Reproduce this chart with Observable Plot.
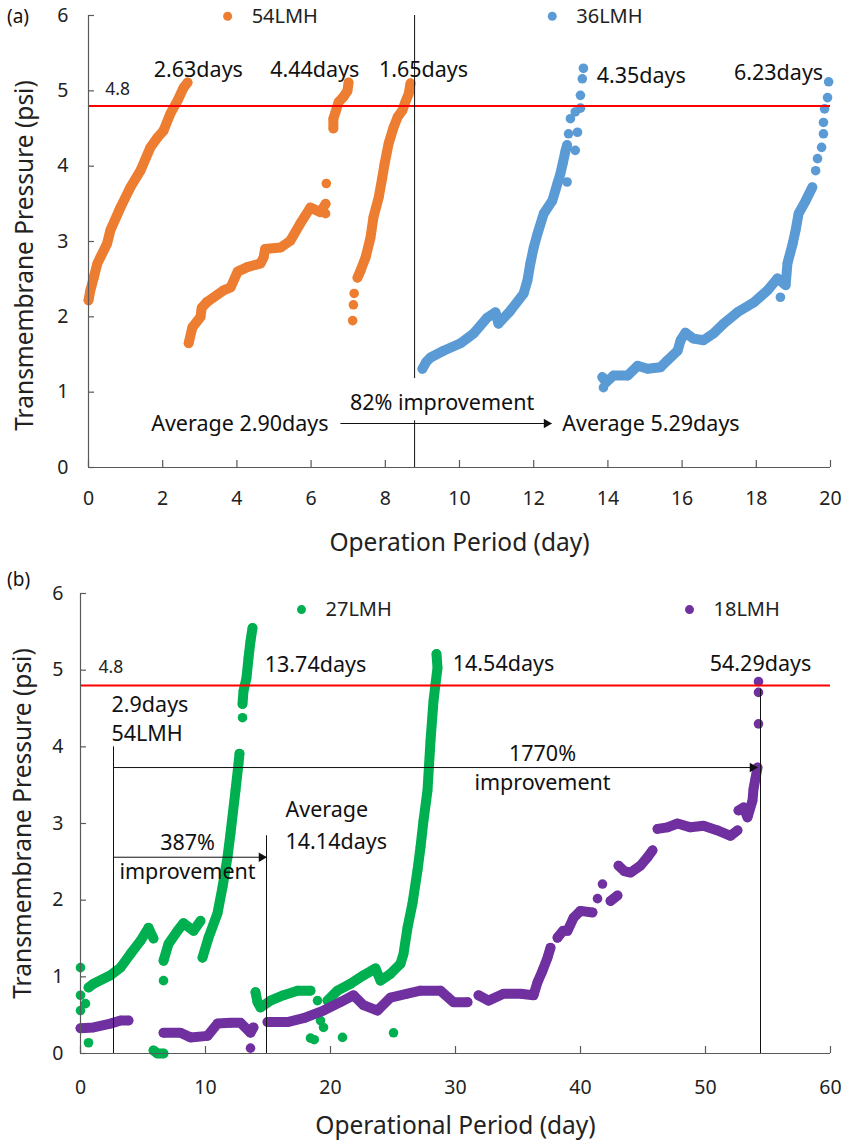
<!DOCTYPE html>
<html><head><meta charset="utf-8">
<script src="https://cdn.jsdelivr.net/npm/d3@7"></script>
<script src="https://cdn.jsdelivr.net/npm/@observablehq/plot@0.6"></script>
<style>
body{margin:0;background:#fff;}
#wrap{position:relative;width:846px;height:1142px;font-family:"Noto Sans","Open Sans",sans-serif;}
.panel{position:absolute;left:0;}
.tag{position:absolute;font-size:19px;color:#111;line-height:24px;z-index:2;}
</style></head><body>
<div id="wrap">
  <div class="tag" style="left:7px;top:4px">(a)</div>
  <div class="tag" style="left:7px;top:567px">(b)</div>
</div>
<script>
// ---------- Panel (a) data: [day, psi] ----------
const aXTicks = [0,2,4,6,8,10,12,14,16,18,20];
const yTicks = [0,1,2,3,4,5,6];
const limitTMP = 4.8;

const run54a = [[0,2.22],[0.05,2.35],[0.14,2.52],[0.24,2.71],[0.32,2.79],[0.5,2.97],[0.59,3.15],[0.86,3.45],[1.13,3.72],[1.4,3.94],[1.67,4.25],[1.86,4.38],[2.02,4.47],[2.21,4.7],[2.4,4.87],[2.56,5.04],[2.67,5.11]];
const run54b = [[2.7,1.65],[2.8,1.86],[3.02,2.0],[3.05,2.12],[3.2,2.2],[3.64,2.35],[3.83,2.39],[4.02,2.6],[4.28,2.66],[4.64,2.71],[4.72,2.79],[4.76,2.9],[5.18,2.92],[5.44,3.01],[5.71,3.24],[5.98,3.45],[6.25,3.39],[6.39,3.5]];
const run54c = [[6.6,4.5],[6.6,4.63],[6.66,4.72],[6.74,4.85],[6.87,4.92],[6.98,5.0],[7.01,5.11]];
const run54d = [[7.25,2.52],[7.33,2.61],[7.47,2.79],[7.6,3.05],[7.68,3.32],[7.82,3.58],[7.92,3.85],[7.98,4.03],[8.09,4.3],[8.22,4.51],[8.33,4.65],[8.46,4.74],[8.54,4.85],[8.63,4.96],[8.68,5.1]];
const loose54 = [[6.39,3.37],[6.41,3.77],[7.12,1.95],[7.14,2.16],[7.16,2.31]];

const run36a = [[9.0,1.31],[9.1,1.4],[9.22,1.46],[9.57,1.55],[10.03,1.65],[10.38,1.78],[10.75,1.99],[10.97,2.06],[11.05,1.91],[11.37,2.08],[11.73,2.31],[11.83,2.48],[11.91,2.71],[12.0,2.92],[12.1,3.1],[12.27,3.37],[12.5,3.54],[12.64,3.77],[12.72,3.9],[12.78,4.03],[12.86,4.21],[12.9,4.28]];
const run36b = [[13.85,1.2],[13.95,1.13],[14.15,1.22],[14.53,1.22],[14.8,1.35],[15.07,1.31],[15.42,1.33],[15.6,1.42],[15.88,1.55],[15.96,1.69],[16.09,1.79],[16.31,1.71],[16.58,1.69],[16.85,1.78],[17.12,1.91],[17.49,2.06],[17.93,2.19],[18.3,2.35],[18.57,2.51],[18.79,2.42],[18.84,2.71],[18.98,2.97],[19.06,3.15],[19.14,3.37],[19.33,3.54],[19.51,3.72]];
const loose36 = [[12.9,3.79],[13.12,4.21],[12.94,4.43],[13.18,4.45],[12.99,4.63],[13.12,4.72],[13.26,4.77],[13.26,4.94],[13.31,5.16],[13.34,5.3],[13.88,1.06],[18.65,2.26],[19.6,3.94],[19.65,4.1],[19.76,4.25],[19.81,4.43],[19.81,4.58],[19.84,4.76],[19.92,4.91],[19.95,5.12]];

// ---------- Panel (b) data: [day, psi] ----------
const bXTicks = [0,10,20,30,40,50,60];

const run27a = [[0.64,0.86],[1.04,0.91],[2.4,1.02],[3.2,1.12],[4.0,1.3],[4.8,1.47],[5.44,1.64],[5.84,1.5]];
const run27b = [[5.84,0.04],[6.16,0.0],[6.64,0.0]];
const run27c = [[6.64,1.21],[7.04,1.43],[7.76,1.6],[8.24,1.7],[9.04,1.6],[9.6,1.73]];
const run27d = [[9.76,1.25],[10.24,1.51],[10.96,1.83],[11.36,2.17],[11.76,2.56],[12.0,2.87],[12.4,3.43],[12.64,3.78],[12.72,3.91]];
const run27e = [[12.96,4.56],[13.04,4.73],[13.28,4.9],[13.44,5.16],[13.6,5.38],[13.76,5.55]];
const run27f = [[14.0,0.8],[14.16,0.67],[14.4,0.6],[15.2,0.69],[16.24,0.76],[17.36,0.82],[18.4,0.82]];
const run27g = [[19.76,0.69],[20.56,0.82],[21.6,0.91],[22.64,1.02],[23.6,1.11],[24.0,0.95],[24.8,1.04],[25.6,1.17],[25.84,1.3],[26.16,1.64],[26.56,1.96],[26.96,2.39],[27.2,2.69],[27.44,3.04],[27.76,3.43],[28.0,4.08],[28.24,4.6],[28.4,4.82],[28.56,5.03],[28.48,5.21]];
const loose27 = [[0,1.12],[0,0.76],[0,0.56],[0.4,0.65],[0.64,0.14],[6.64,0.95],[12.96,4.38],[18.96,0.69],[19.2,0.43],[18.4,0.2],[18.7,0.18],[19.44,0.34],[20.96,0.21],[25.04,0.27]];

const run18a = [[0,0.33],[1.04,0.34],[2.4,0.39],[3.2,0.43],[3.84,0.43]];
const run18b = [[6.64,0.27],[8.0,0.27],[8.8,0.21],[10.16,0.23],[10.96,0.39],[12.0,0.4],[12.8,0.4],[13.6,0.27],[13.84,0.34]];
const run18c = [[14.96,0.41],[16.56,0.41],[17.84,0.46],[19.44,0.56],[20.8,0.67],[21.84,0.76],[22.64,0.63],[23.76,0.56],[24.8,0.73],[26.16,0.78],[27.2,0.82],[28.8,0.82],[29.84,0.67],[30.96,0.67]];
const run18d = [[31.84,0.76],[32.64,0.69],[33.84,0.78],[35.2,0.78],[36.24,0.76],[36.56,0.93],[36.96,1.08],[37.36,1.25],[37.6,1.38]];
const run18e = [[38.16,1.51],[38.6,1.6],[38.96,1.6],[39.44,1.77],[40.0,1.86],[40.96,1.84]];
const run18f = [[42.4,1.99],[42.96,2.06]];
const run18g = [[43.04,2.45],[43.5,2.38],[44.0,2.36],[44.8,2.45],[45.36,2.56],[45.76,2.65]];
const run18h = [[46.16,2.93],[46.96,2.95],[47.76,3.0],[48.8,2.95],[49.84,2.97],[50.96,2.91],[52.0,2.84],[52.56,2.91]];
const run18i = [[52.64,3.17],[53.04,3.21],[53.36,3.08],[53.76,3.3],[53.84,3.45],[54.0,3.59],[54.16,3.73]];
const loose18 = [[13.6,0.07],[41.36,2.02],[41.76,2.21],[54.24,4.3],[54.24,4.71],[54.24,4.85]];

// ---------- annotations ----------
const aLabels = [
  {text:"2.63days", x:2.96, y:5.27},{text:"4.44days", x:6.1, y:5.27},{text:"1.65days", x:9.03, y:5.27},
  {text:"4.35days", x:14.9, y:5.2},{text:"6.23days", x:18.6, y:5.24},
  {text:"82% improvement", x:9.53, y:0.86},{text:"Average 2.90days", x:4.08, y:0.58},{text:"Average 5.29days", x:15.16, y:0.58}
];
const aLimitLabel = [{text:"4.8", x:0.45, y:5.02}];
const aLegend = [{label:"54LMH", x:3.75, y:5.99},{label:"36LMH", x:12.5, y:5.99}];
const aRules = [{x:8.79, y1:0, y2:0.62},{x:8.79, y1:1.18, y2:6}];
const aArrows = [{x1:6.79, x2:12.48, y:0.584}];

const bLabelsCentered = [
  {text:"13.74days", x:18.8, y:5.06},{text:"14.54days", x:33.84, y:5.08},{text:"54.29days", x:54.4, y:5.08},
  {text:"387%", x:8.56, y:2.75},{text:"improvement", x:8.56, y:2.36},
  {text:"1770%", x:36.96, y:3.91},{text:"improvement", x:36.96, y:3.53}
];
const bLabelsLeft = [
  {text:"2.9days", x:2.48, y:4.55},{text:"54LMH", x:2.48, y:4.16},
  {text:"Average", x:16.4, y:3.17},{text:"14.14days", x:16.4, y:2.76}
];
const bLimitLabel = [{text:"4.8", x:1.44, y:5.03}];
const bLegend = [{label:"27LMH", x:17.68, y:5.79},{label:"18LMH", x:48.72, y:5.79}];
const bRules = [{x:2.64, y1:0, y2:4.0},{x:14.88, y1:0, y2:2.84},{x:54.4, y1:0, y2:4.75}];
const bArrows = [{x1:2.64, x2:54.16, y:3.73},{x1:2.64, x2:14.88, y:2.56}];

// ---------- helpers ----------
const FONT = '"Noto Sans","Open Sans",sans-serif';
const AX = "#595959", INK = "#111";
const COLORS = {"54LMH":"#ED7D31","36LMH":"#5B9BD5","27LMH":"#00B050","18LMH":"#7030A0"};
const LABEL_SIZE = 21.5, TITLE_SIZE = 24.5, TICK_SIZE = 19.5;

function table(series, runs, loose) {
  const line = [], dots = [];
  runs.forEach((run, i) => run.forEach(([x, y]) => { const d = {series, run: series + "-" + i, x, y}; line.push(d); dots.push(d); }));
  loose.forEach(([x, y]) => dots.push({series, run: "loose", x, y}));
  return {line, dots};
}
function seriesMarks(t, color) {
  return [
    Plot.line(t.line, {x:"x", y:"y", z:"run", stroke:color, strokeWidth:10, strokeLinecap:"round", strokeLinejoin:"round"}),
    Plot.dot(t.dots, {x:"x", y:"y", r:4.8, fill:color})
  ];
}
function frameMarks(xTicks, fw, fh, xPad, yPad) {
  return [
    Plot.ruleX([0], {stroke:AX, strokeWidth:1.2}),
    Plot.ruleY([0], {stroke:AX, strokeWidth:1.2}),
    Plot.tickX(xTicks, {x:d=>d, stroke:AX, strokeWidth:1.2, insetTop: fh - 7}),
    Plot.tickY(yTicks, {y:d=>d, stroke:AX, strokeWidth:1.2, insetRight: fw - 6}),
    Plot.axisX({ticks:xTicks, tickSize:0, tickPadding:xPad, fontSize:TICK_SIZE, fill:"#222", label:null, tickFormat:d=>String(d)}),
    Plot.axisY({ticks:yTicks, tickSize:0, tickPadding:yPad, fontSize:TICK_SIZE, fill:"#222", label:null, tickFormat:d=>String(d)})
  ];
}
function annotationMarks(rules, arrows) {
  return [
    Plot.ruleX(rules, {x:"x", y1:"y1", y2:"y2", stroke:INK, strokeWidth:1}),
    Plot.link(arrows, {x1:"x1", x2:"x2", y1:"y", y2:"y", stroke:INK, strokeWidth:1}),
    Plot.dot(arrows, {x:"x2", y:"y", symbol:"triangle", r:3.5, rotate:90, dx:-5, fill:INK, stroke:null})
  ];
}
function legendMarks(legend) {
  return [
    Plot.dot(legend, {x:"x", y:"y", r:4.5, fill:d=>COLORS[d.label]}),
    Plot.text(legend, {x:"x", y:"y", text:"label", dx:24, textAnchor:"start", fontSize:20, fill:"#222"})
  ];
}

const wrap = document.getElementById("wrap");

// ---------- Panel (a) ----------
const t54 = table("54LMH", [run54a, run54b, run54c, run54d], loose54);
const t36 = table("36LMH", [run36a, run36b], loose36);
const A = Plot.plot({
  width:846, height:565, marginLeft:88, marginRight:16, marginTop:15, marginBottom:98,
  x:{domain:[0,20]}, y:{domain:[0,6]},
  style:{fontFamily:FONT, fontSize:"19px", color:"#222", background:"transparent", overflow:"visible"},
  marks:[
    ...seriesMarks(t54, COLORS["54LMH"]),
    ...seriesMarks(t36, COLORS["36LMH"]),
    Plot.ruleY([limitTMP], {stroke:"#FF0000", strokeWidth:2}),
    ...frameMarks(aXTicks, 742, 452, 24, 20),
    ...annotationMarks(aRules, aArrows),
    ...legendMarks(aLegend),
    Plot.text(aLimitLabel, {x:"x", y:"y", text:"text", textAnchor:"start", fontSize:17.5, fill:"#222"}),
    Plot.text(aLabels, {x:"x", y:"y", text:"text", fontSize:LABEL_SIZE, fill:INK}),
    Plot.text(["Transmembrane Pressure (psi)"], {frameAnchor:"left", text:d=>d, textAnchor:"middle", dx:-63, dy:14, rotate:-90, fontSize:TITLE_SIZE, fill:"#222"}),
    Plot.text(["Operation Period (day)"], {frameAnchor:"bottom", text:d=>d, textAnchor:"middle", dy:83, fontSize:TITLE_SIZE, fill:"#222"})
  ]
});
A.classList.add("panel"); A.style.top = "0px";
wrap.appendChild(A);

// ---------- Panel (b) ----------
const t27 = table("27LMH", [run27a, run27b, run27c, run27d, run27e, run27f, run27g], loose27);
const t18 = table("18LMH", [run18a, run18b, run18c, run18d, run18e, run18f, run18g, run18h, run18i], loose18);
const B = Plot.plot({
  width:846, height:577, marginLeft:80, marginRight:16, marginTop:28, marginBottom:89,
  x:{domain:[0,60]}, y:{domain:[0,6]},
  style:{fontFamily:FONT, fontSize:"19px", color:"#222", background:"transparent", overflow:"visible"},
  marks:[
    ...seriesMarks(t27, COLORS["27LMH"]),
    ...seriesMarks(t18, COLORS["18LMH"]),
    Plot.ruleY([limitTMP], {stroke:"#FF0000", strokeWidth:2}),
    ...frameMarks(bXTicks, 750, 460, 27, 17),
    ...annotationMarks(bRules, bArrows),
    ...legendMarks(bLegend),
    Plot.text(bLimitLabel, {x:"x", y:"y", text:"text", textAnchor:"start", fontSize:17.5, fill:"#222"}),
    Plot.text(bLabelsCentered, {x:"x", y:"y", text:"text", textAnchor:"middle", fontSize:LABEL_SIZE, fill:INK}),
    Plot.text(bLabelsLeft, {x:"x", y:"y", text:"text", textAnchor:"start", fontSize:LABEL_SIZE, fill:INK}),
    Plot.text(["Transmembrane Pressure (psi)"], {frameAnchor:"left", text:d=>d, textAnchor:"middle", dx:-57, rotate:-90, fontSize:TITLE_SIZE, fill:"#222"}),
    Plot.text(["Operational Period (day)"], {frameAnchor:"bottom", text:d=>d, textAnchor:"middle", dy:80, fontSize:TITLE_SIZE, fill:"#222"})
  ]
});
B.classList.add("panel"); B.style.top = "565px";
wrap.appendChild(B);
</script>
</body></html>
